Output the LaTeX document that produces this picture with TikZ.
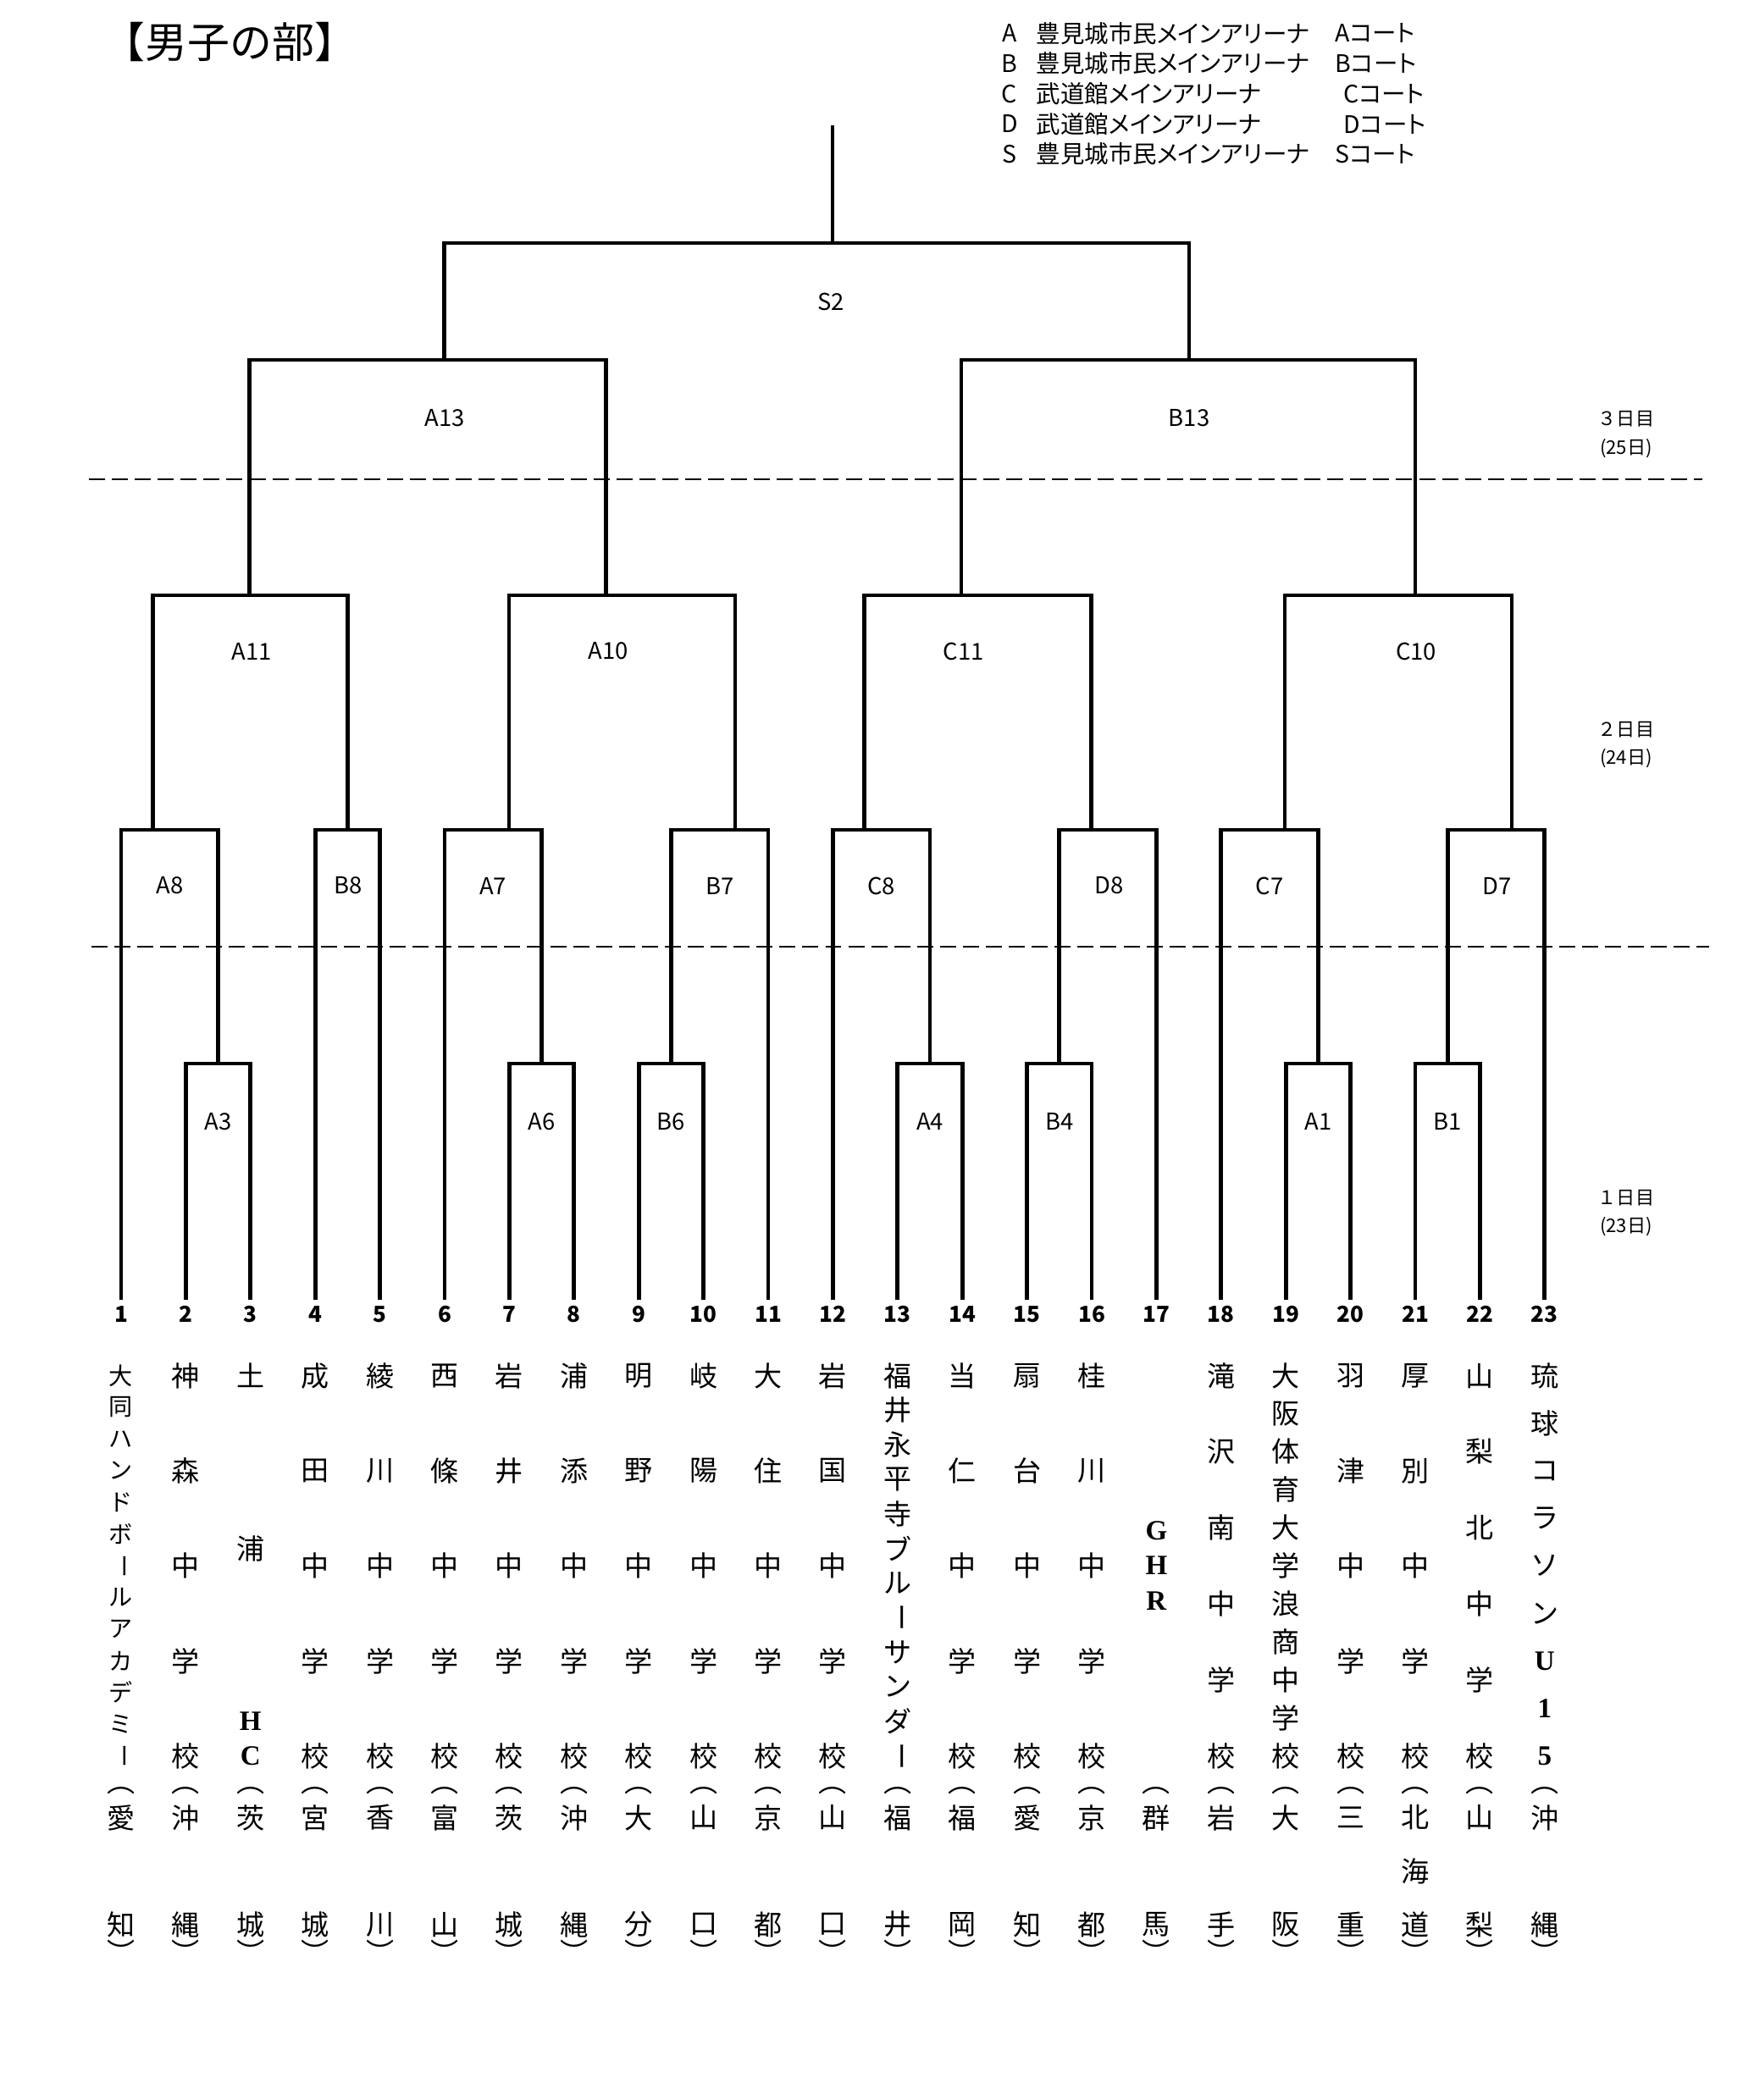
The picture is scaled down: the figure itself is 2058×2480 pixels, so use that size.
\documentclass[tikz,border=0pt]{standalone}
\usepackage{fontspec}
\setmainfont{Liberation Sans}
\newfontfamily\jp{Noto Sans CJK JP}
\newfontfamily\jpp[RawFeature=+palt]{Noto Sans CJK JP}
\newfontfamily\lserif{Liberation Serif}
\usepackage{graphicx}

\tikzset{
    bracket/.style={line width=1.4pt},
    dayline/.style={line width=0.5pt, dash pattern=on 5.4pt off 2.3pt},
    game/.style={font=\jp\fontsize{7.8}{9}\selectfont, inner sep=0pt},
    num/.style={font=\jp\bfseries\fontsize{7.4}{9}\selectfont, inner sep=0pt},
    jch/.style={font=\jp\fontsize{9.4}{11}\selectfont, inner sep=0pt},
    lat/.style={font=\lserif\bfseries\fontsize{9.4}{11}\selectfont, inner sep=0pt},
    legend/.style={font=\jpp\fontsize{8.1}{10}\selectfont, inner sep=0pt},
    day/.style={font=\jp\fontsize{6.3}{8}\selectfont, inner sep=0pt}
}

\newcommand{\vbar}{\rotatebox{-90}{ー}}
\newcommand{\vname}[4]{%
    \foreach \ch [count=\k] in {#4}
        \node[jch] (#1-\k) at (#2,{1624.6+(\k-1)*449/(#3-1)}) {\ch};}
\newcommand{\vpref}[4]{%
    \node[jch] (#1-o) at (#2,2104) {\rotatebox{-90}{（}};
    \foreach \ch [count=\k] in {#4}
        \node[jch] (#1-p\k) at (#2,{2146.5+(\k-1)*126.1/(#3-1)}) {\ch};
    \node[jch] (#1-c) at (#2,2306) {\rotatebox{-90}{）}};}

\begin{document}
\begin{tikzpicture}[x=0.01cm, y=-0.01cm]

    \useasboundingbox (0,0) rectangle (2058,2480);

    \node[font=\jp\fontsize{14.2}{16}\selectfont, inner sep=0pt] (title) at (271.7,50) {【男子の部】};

    \node[legend] (kA) at (1192,39.3) {A};
    \node[legend] (kB) at (1192,75) {B};
    \node[legend] (kC) at (1192,110.7) {C};
    \node[legend] (kD) at (1192,146.4) {D};
    \node[legend] (kS) at (1192,182) {S};
    \node[legend, anchor=west] (vA) at (1223,39.3) {豊見城市民メインアリーナ};
    \node[legend, anchor=west] (vB) at (1223,75) {豊見城市民メインアリーナ};
    \node[legend, anchor=west] (vC) at (1223,110.7) {武道館メインアリーナ};
    \node[legend, anchor=west] (vD) at (1223,146.4) {武道館メインアリーナ};
    \node[legend, anchor=west] (vS) at (1223,182) {豊見城市民メインアリーナ};
    \node[legend, anchor=west] (cA) at (1576,39.3) {Aコート};
    \node[legend, anchor=west] (cB) at (1576,75) {Bコート};
    \node[legend, anchor=west] (cC) at (1586,110.7) {Cコート};
    \node[legend, anchor=west] (cD) at (1586,146.4) {Dコート};
    \node[legend, anchor=west] (cS) at (1576,182) {Sコート};

    \foreach \i in {1,...,23} {
        \coordinate (t\i) at ({143+(\i-1)*76.4},1535);
        \node[num] (n\i) at ({143+(\i-1)*76.4},1552) {\i};
    }

    \coordinate (A3) at (257.6,1256);
    \coordinate (A6) at (639.6,1256);
    \coordinate (B6) at (792.4,1256);
    \coordinate (A4) at (1098,1256);
    \coordinate (B4) at (1250.8,1256);
    \coordinate (A1) at (1556.4,1256);
    \coordinate (B1) at (1709.2,1256);

    \coordinate (A8) at (180.4,980);
    \coordinate (B8) at (410.4,980);
    \coordinate (A7) at (601,980);
    \coordinate (B7) at (868,980);
    \coordinate (C8) at (1020.6,980);
    \coordinate (D8) at (1288.7,980);
    \coordinate (C7) at (1517,980);
    \coordinate (D7) at (1785,980);

    \coordinate (A11) at (294.4,703);
    \coordinate (A10) at (715.5,703);
    \coordinate (C11) at (1135,703);
    \coordinate (C10) at (1671,703);

    \coordinate (A13) at (524.5,425);
    \coordinate (B13) at (1404,425);
    \coordinate (S2) at (983,287);
    \coordinate (top) at (983,148);

    \draw[bracket] (t2) |- (A3) -| (t3);
    \draw[bracket] (t7) |- (A6) -| (t8);
    \draw[bracket] (t9) |- (B6) -| (t10);
    \draw[bracket] (t13) |- (A4) -| (t14);
    \draw[bracket] (t15) |- (B4) -| (t16);
    \draw[bracket] (t19) |- (A1) -| (t20);
    \draw[bracket] (t21) |- (B1) -| (t22);

    \draw[bracket] (t1) |- (A8) -| (A3);
    \draw[bracket] (t4) |- (B8) -| (t5);
    \draw[bracket] (t6) |- (A7) -| (A6);
    \draw[bracket] (B6) |- (B7) -| (t11);
    \draw[bracket] (t12) |- (C8) -| (A4);
    \draw[bracket] (B4) |- (D8) -| (t17);
    \draw[bracket] (t18) |- (C7) -| (A1);
    \draw[bracket] (B1) |- (D7) -| (t23);

    \draw[bracket] (A8) |- (A11) -| (B8);
    \draw[bracket] (A7) |- (A10) -| (B7);
    \draw[bracket] (C8) |- (C11) -| (D8);
    \draw[bracket] (C7) |- (C10) -| (D7);

    \draw[bracket] (A11) |- (A13) -| (A10);
    \draw[bracket] (C11) |- (B13) -| (C10);
    \draw[bracket] (A13) |- (S2) -| (B13);
    \draw[bracket] (S2) -- (top);

    \node[game] (lA3) at (257.6,1324.5) {A3};
    \node[game] (lA6) at (639.6,1324.5) {A6};
    \node[game] (lB6) at (792.4,1324.5) {B6};
    \node[game] (lA4) at (1098,1324.5) {A4};
    \node[game] (lB4) at (1250.8,1324.5) {B4};
    \node[game] (lA1) at (1556.4,1324.5) {A1};
    \node[game] (lB1) at (1709.2,1324.5) {B1};
    \node[game] (lA8) at (200.5,1046) {A8};
    \node[game] (lB8) at (411,1046) {B8};
    \node[game] (lA7) at (582,1046) {A7};
    \node[game] (lB7) at (850,1046) {B7};
    \node[game] (lC8) at (1040.7,1046) {C8};
    \node[game] (lD8) at (1310,1046) {D8};
    \node[game] (lC7) at (1499,1046) {C7};
    \node[game] (lD7) at (1768,1046) {D7};
    \node[game] (lA11) at (297,769) {A11};
    \node[game] (lA10) at (718,769) {A10};
    \node[game] (lC11) at (1137.7,769) {C11};
    \node[game] (lC10) at (1672,769) {C10};
    \node[game] (lA13) at (525,493.7) {A13};
    \node[game] (lB13) at (1404,493.7) {B13};
    \node[game] (lS2) at (981,356) {S2};

    \coordinate (d1a) at (105,566);
    \coordinate (d1b) at (2010,566);
    \coordinate (d2a) at (108,1118);
    \coordinate (d2b) at (2018,1118);
    \draw[dayline] (d1a) -- (d1b);
    \draw[dayline] (d2a) -- (d2b);

    \node[day] (day3) at (1920,495) {３日目};
    \node[day] (date3) at (1920,530) {(25日)};
    \node[day] (day2) at (1920,862) {２日目};
    \node[day] (date2) at (1920,896) {(24日)};
    \node[day] (day1) at (1920,1415) {１日目};
    \node[day] (date1) at (1920,1449) {(23日)};

    \begin{scope}[jch/.append style={font=\jp\fontsize{8}{10}\selectfont}]
        \vname{s1}{143}{13}{大,同,ハ,ン,ド,ボ,\vbar,ル,ア,カ,デ,ミ,\vbar}
    \end{scope}
    \vname{s2}{219.4}{5}{神,森,中,学,校}
    \node[jch] (s3-1) at (295.8,1624.6) {土};
    \node[jch] (s3-2) at (295.8,1828.7) {浦};
    \node[lat] (s3-3) at (295.8,2032.8) {H};
    \node[lat] (s3-4) at (295.8,2073.6) {C};
    \vname{s4}{372.2}{5}{成,田,中,学,校}
    \vname{s5}{448.6}{5}{綾,川,中,学,校}
    \vname{s6}{525}{5}{西,條,中,学,校}
    \vname{s7}{601.4}{5}{岩,井,中,学,校}
    \vname{s8}{677.8}{5}{浦,添,中,学,校}
    \vname{s9}{754.2}{5}{明,野,中,学,校}
    \vname{s10}{830.6}{5}{岐,陽,中,学,校}
    \vname{s11}{907}{5}{大,住,中,学,校}
    \vname{s12}{983.4}{5}{岩,国,中,学,校}
    \vname{s13}{1059.8}{12}{福,井,永,平,寺,ブ,ル,\vbar,サ,ン,ダ,\vbar}
    \vname{s14}{1136.2}{5}{当,仁,中,学,校}
    \vname{s15}{1212.6}{5}{扇,台,中,学,校}
    \vname{s16}{1289}{5}{桂,川,中,学,校}
    \node[lat] (s17-1) at (1365.4,1808) {G};
    \node[lat] (s17-2) at (1365.4,1849) {H};
    \node[lat] (s17-3) at (1365.4,1891) {R};
    \vname{s18}{1441.8}{6}{滝,沢,南,中,学,校}
    \vname{s19}{1518.2}{11}{大,阪,体,育,大,学,浪,商,中,学,校}
    \vname{s20}{1594.6}{5}{羽,津,中,学,校}
    \vname{s21}{1671}{5}{厚,別,中,学,校}
    \vname{s22}{1747.4}{6}{山,梨,北,中,学,校}
    \vname{s23}{1823.8}{9}{琉,球,コ,ラ,ソ,ン,{\lserif\bfseries U},{\lserif\bfseries 1},{\lserif\bfseries 5}}

    \vpref{p1}{143}{2}{愛,知}
    \vpref{p2}{219.4}{2}{沖,縄}
    \vpref{p3}{295.8}{2}{茨,城}
    \vpref{p4}{372.2}{2}{宮,城}
    \vpref{p5}{448.6}{2}{香,川}
    \vpref{p6}{525}{2}{富,山}
    \vpref{p7}{601.4}{2}{茨,城}
    \vpref{p8}{677.8}{2}{沖,縄}
    \vpref{p9}{754.2}{2}{大,分}
    \vpref{p10}{830.6}{2}{山,口}
    \vpref{p11}{907}{2}{京,都}
    \vpref{p12}{983.4}{2}{山,口}
    \vpref{p13}{1059.8}{2}{福,井}
    \vpref{p14}{1136.2}{2}{福,岡}
    \vpref{p15}{1212.6}{2}{愛,知}
    \vpref{p16}{1289}{2}{京,都}
    \vpref{p17}{1365.4}{2}{群,馬}
    \vpref{p18}{1441.8}{2}{岩,手}
    \vpref{p19}{1518.2}{2}{大,阪}
    \vpref{p20}{1594.6}{2}{三,重}
    \vpref{p21}{1671}{3}{北,海,道}
    \vpref{p22}{1747.4}{2}{山,梨}
    \vpref{p23}{1823.8}{2}{沖,縄}

\end{tikzpicture}
\end{document}
